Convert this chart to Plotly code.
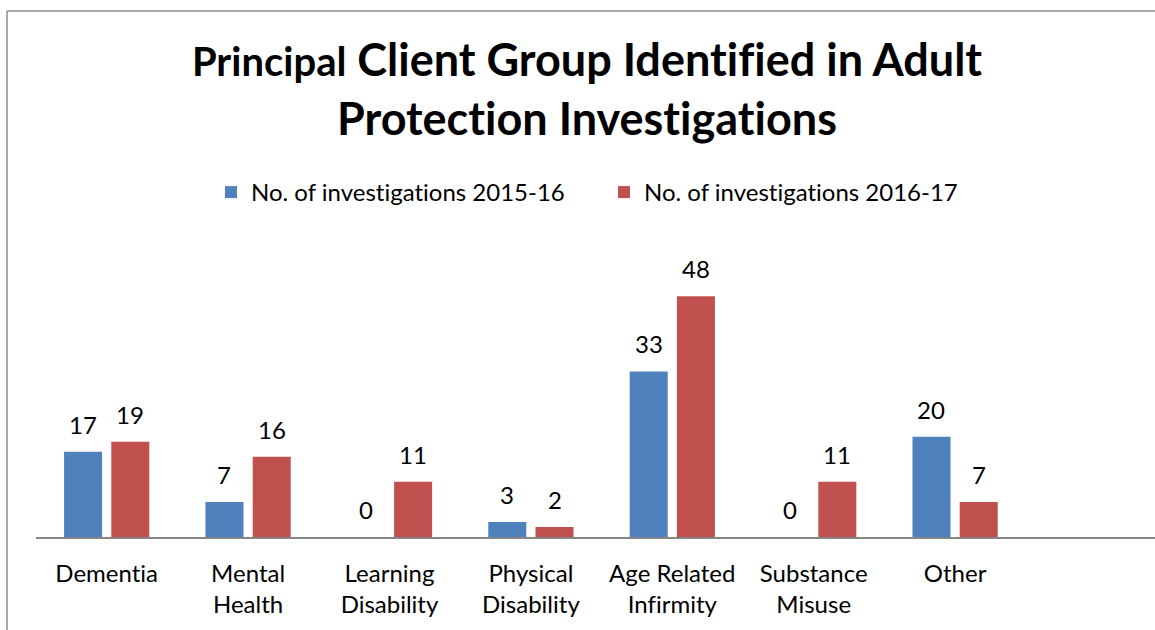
import plotly.graph_objects as go

categories = ["Dementia", "Mental<br>Health", "Learning<br>Disability", "Physical<br>Disability",
              "Age Related<br>Infirmity", "Substance<br>Misuse", "Other"]
series_2015 = [17, 7, 0, 3, 33, 0, 20]
series_2016 = [19, 16, 11, 2, 48, 11, 7]
series_names = ["No. of investigations 2015-16", "No. of investigations 2016-17"]
colors = ["#4F81BD", "#C0504D"]

FONT = "Lato, Carlito, 'Open Sans', sans-serif"
W, H = 1155, 630
ML, MR, MT, MB = 36, 0, 236, 93
plot_w = W - ML - MR
band = 141.4
x_max = -0.5 + plot_w / band
BARGAP = 0.332

fig = go.Figure()
for name, vals, col in zip(series_names, [series_2015, series_2016], colors):
    fig.add_trace(go.Bar(x=categories, y=vals, name=name, marker=dict(color=col, line=dict(width=0)),
                         hoverinfo="y"))

# data labels
half_slot = (1 - BARGAP) * band / 4
for i, vals in enumerate([series_2015, series_2016]):
    shift = -half_slot if i == 0 else half_slot
    for c, v in zip(categories, vals):
        fig.add_annotation(x=c, y=v, xref="x", yref="y", text=str(v), showarrow=False,
                           xshift=shift, yshift=11, yanchor="bottom",
                           font=dict(family=FONT, size=24, color="#000000"))

# outer frame (left + top)
fx = (7 - ML) / plot_w
fy_top = 1 + (MT - 11) / (H - MT - MB)
fy_bot = -(MB + 5) / (H - MT - MB)
fig.add_shape(type="line", xref="paper", yref="paper", x0=fx, x1=fx, y0=fy_bot, y1=fy_top,
              line=dict(color="#8C8C8C", width=1.5))
fig.add_shape(type="line", xref="paper", yref="paper", x0=fx, x1=1.05, y0=fy_top, y1=fy_top,
              line=dict(color="#8C8C8C", width=1.5))

fig.update_layout(
    width=W, height=H,
    margin=dict(l=ML, r=MR, t=MT, b=MB, pad=0),
    paper_bgcolor="white", plot_bgcolor="white",
    barmode="group", bargap=BARGAP, bargroupgap=0.195,
    title=dict(
        text="<span style='font-size:40px'>Principal</span> Client Group Identified in Adult<br>Protection Investigations",
        x=587 / W, xref="container", xanchor="center",
        y=1 - 76 / H, yref="container", yanchor="top",
        font=dict(family=FONT, size=45, color="#000000", weight="bold"),
    ),
    legend=dict(orientation="h", x=211 / W, xref="container", xanchor="left",
                y=1 - 170 / H, yref="container", yanchor="top",
                font=dict(family=FONT, size=24, color="#000000"),
                bgcolor="rgba(0,0,0,0)", entrywidth=348, traceorder="normal"),
    xaxis=dict(range=[-0.5, x_max], showline=True, linecolor="#868686", linewidth=2,
               showgrid=False, zeroline=False, ticks="", ticklabelstandoff=14,
               tickfont=dict(family=FONT, size=24, color="#000000"), fixedrange=True),
    yaxis=dict(range=[0, 60], visible=False, showgrid=False, zeroline=False, fixedrange=True),
    showlegend=True,
)
post = ("document.body.style.margin='0';"
        "var s=document.createElement('style');"
        "s.textContent='svg text, svg tspan{font-variant-ligatures:none;font-feature-settings:\"liga\" 0,\"clig\" 0;}';"
        "document.head.appendChild(s);")
fig.write_html("out.html", post_script=post, config={"displayModeBar": False})
